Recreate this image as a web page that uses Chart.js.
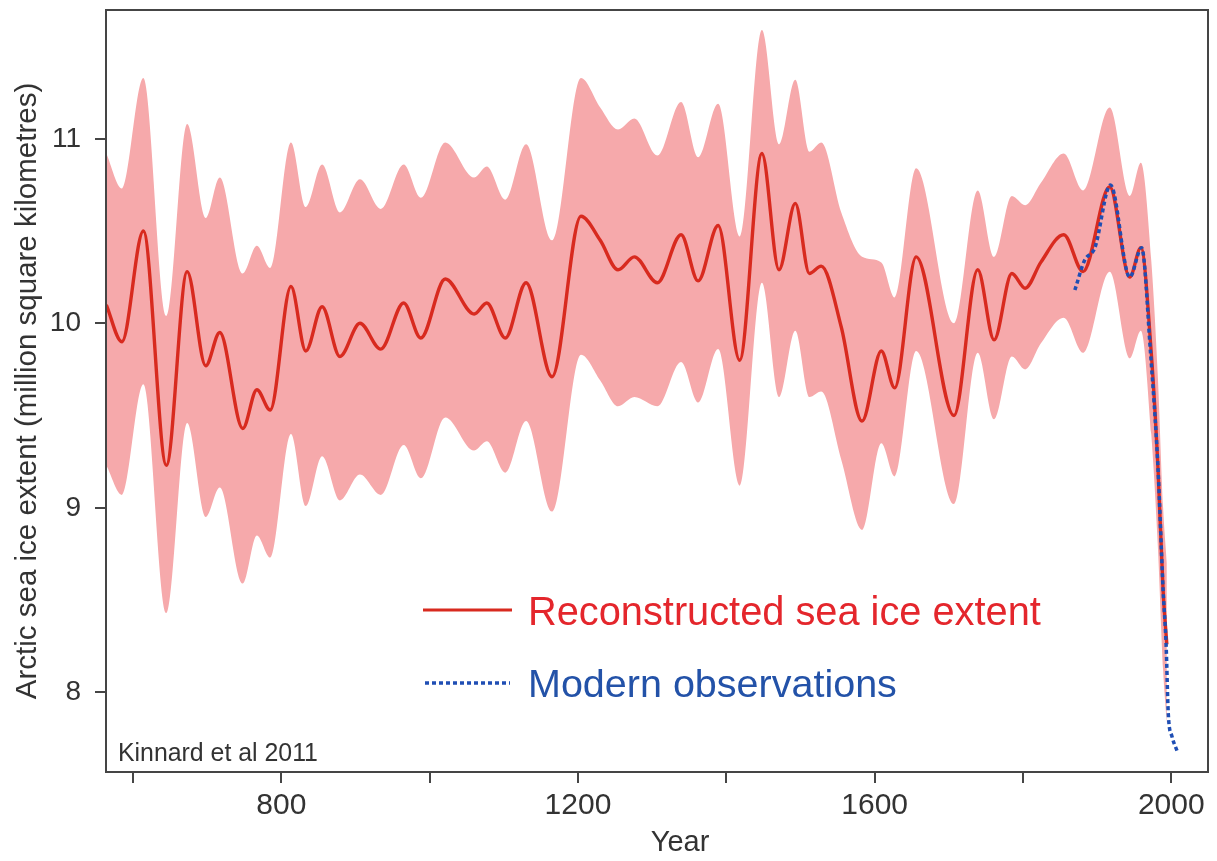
<!DOCTYPE html>
<html>
<head>
<meta charset="utf-8">
<title>Arctic sea ice extent</title>
<script src="https://cdn.jsdelivr.net/npm/chart.js@4.4.1/dist/chart.umd.min.js"></script>
<style>
  html, body { margin: 0; padding: 0; background: #ffffff; }
  #wrap { width: 1217px; height: 861px; position: relative; }
</style>
</head>
<body>
<div id="wrap"><canvas id="chart"></canvas></div>
<script>
// ---- Data ----
const years = [564, 585, 614, 645, 673, 698, 717, 748, 767, 785, 813, 833, 855, 879, 906, 934, 965, 988,
  1021, 1060, 1077, 1102, 1130, 1165, 1204, 1230, 1254, 1276, 1307, 1339, 1362, 1389, 1418, 1448, 1471,
  1493, 1512, 1528, 1555, 1583, 1609, 1627, 1656, 1707, 1739, 1761, 1785, 1803, 1824, 1855, 1881, 1917,
  1944, 1959, 1973, 1982, 1989, 1994];
const upperBound = [10.92, 10.73, 11.33, 10.04, 11.08, 10.57, 10.79, 10.27, 10.42, 10.30, 10.98, 10.63, 10.86, 10.60, 10.78, 10.62, 10.86, 10.68,
  10.98, 10.79, 10.85, 10.67, 10.97, 10.45, 11.33, 11.17, 11.05, 11.11, 10.91, 11.20, 10.90, 11.19, 10.47, 11.59, 10.97,
  11.32, 10.93, 10.98, 10.60, 10.36, 10.33, 10.14, 10.84, 10.00, 10.72, 10.36, 10.69, 10.64, 10.76, 10.92, 10.72, 11.17,
  10.69, 10.87, 10.34, 9.70, 9.00, 8.70];
const reconstructed = [10.10, 9.90, 10.50, 9.23, 10.28, 9.77, 9.95, 9.43, 9.64, 9.53, 10.20, 9.85, 10.09, 9.82, 10.00, 9.86, 10.11, 9.92,
  10.24, 10.05, 10.11, 9.92, 10.22, 9.71, 10.58, 10.45, 10.29, 10.36, 10.22, 10.48, 10.23, 10.53, 9.80, 10.92, 10.29,
  10.65, 10.27, 10.31, 9.98, 9.47, 9.85, 9.65, 10.36, 9.50, 10.29, 9.91, 10.27, 10.19, 10.33, 10.48, 10.28, 10.74,
  10.25, 10.41, 9.84, 9.22, 8.55, 8.26];
const lowerBound = [9.23, 9.07, 9.67, 8.43, 9.46, 8.95, 9.11, 8.59, 8.85, 8.73, 9.40, 9.01, 9.28, 9.04, 9.18, 9.07, 9.34, 9.16,
  9.49, 9.31, 9.36, 9.19, 9.47, 8.98, 9.83, 9.69, 9.55, 9.60, 9.55, 9.79, 9.57, 9.86, 9.12, 10.22, 9.60,
  9.96, 9.60, 9.63, 9.26, 8.88, 9.35, 9.17, 9.85, 9.02, 9.84, 9.48, 9.82, 9.75, 9.89, 10.03, 9.84, 10.28,
  9.81, 9.96, 9.40, 8.78, 8.12, 7.83];
const obsYears = [1870, 1883, 1897, 1918, 1944, 1960, 1972, 1982, 1989, 1993, 1996, 2001, 2008];
const observed = [10.18, 10.34, 10.41, 10.75, 10.25, 10.41, 9.84, 9.22, 8.55, 8.26, 7.88, 7.76, 7.68];
const xTickValues = [600, 800, 1000, 1200, 1400, 1600, 1800, 2000];
const xTickLabels = ['', '800', '', '1200', '', '1600', '', '2000'];
const yTickValues = [8, 9, 10, 11];
const yTickLabels = ['8', '9', '10', '11'];

const FONT = '"Liberation Sans", Arial, Helvetica, sans-serif';
const AXIS_COLOR = '#454545';
const TEXT_COLOR = '#333333';

const toXY = (xs, ys) => xs.map((x, i) => ({ x: x, y: ys[i] }));

function fitText(ctx, text, x, baseline, width, color, basePx) {
  ctx.font = basePx + 'px ' + FONT;
  const w = ctx.measureText(text).width;
  const px = basePx * width / w;
  ctx.font = px.toFixed(2) + 'px ' + FONT;
  ctx.fillStyle = color;
  ctx.textAlign = 'left';
  ctx.textBaseline = 'alphabetic';
  ctx.fillText(text, x, baseline);
}

const decorations = {
  id: 'decorations',
  afterDraw(chart) {
    const ctx = chart.ctx;
    const a = chart.chartArea;
    ctx.save();
    // frame
    ctx.strokeStyle = AXIS_COLOR;
    ctx.lineWidth = 2;
    ctx.strokeRect(a.left, a.top, a.right - a.left, a.bottom - a.top);
    // legend inside plot
    ctx.lineCap = 'butt';
    ctx.strokeStyle = '#d82a1f';
    ctx.lineWidth = 3.2;
    ctx.beginPath(); ctx.moveTo(423, 610); ctx.lineTo(512, 610); ctx.stroke();
    fitText(ctx, 'Reconstructed sea ice extent', 528, 625, 513, '#e4262c', 36);
    ctx.strokeStyle = '#1f4eb4';
    ctx.lineWidth = 3.5;
    ctx.setLineDash([4, 3]);
    ctx.beginPath(); ctx.moveTo(425, 683); ctx.lineTo(510, 683); ctx.stroke();
    ctx.setLineDash([]);
    fitText(ctx, 'Modern observations', 528, 697, 369, '#2352a8', 36);
    // source note
    fitText(ctx, 'Kinnard et al 2011', 118, 761, 200, TEXT_COLOR, 18);
    // x axis title
    ctx.font = '29px ' + FONT;
    ctx.fillStyle = TEXT_COLOR;
    ctx.textAlign = 'center';
    ctx.textBaseline = 'middle';
    ctx.fillText('Year', 680, 843);
    ctx.restore();
  }
};

new Chart(document.getElementById('chart'), {
  type: 'line',
  data: {
    datasets: [
      { label: 'Upper bound', data: toXY(years, upperBound), borderWidth: 0, borderColor: 'rgba(0,0,0,0)',
        pointRadius: 0, fill: '+1', backgroundColor: '#f6a9ab', cubicInterpolationMode: 'monotone', order: 3 },
      { label: 'Lower bound', data: toXY(years, lowerBound), borderWidth: 0, borderColor: 'rgba(0,0,0,0)',
        pointRadius: 0, fill: false, cubicInterpolationMode: 'monotone', order: 3 },
      { label: 'Reconstructed sea ice extent', data: toXY(years, reconstructed), borderColor: '#d82a1f',
        borderWidth: 3.4, pointRadius: 0, fill: false, cubicInterpolationMode: 'monotone', order: 1 },
      { label: 'Modern observations', data: toXY(obsYears, observed), borderColor: '#1f4eb4',
        borderWidth: 3.5, borderDash: [4, 3], pointRadius: 0, fill: false, cubicInterpolationMode: 'monotone', order: 0 }
    ]
  },
  options: {
    responsive: true,
    maintainAspectRatio: false,
    animation: false,
    layout: { padding: { left: 0, top: 10, right: 9, bottom: 0 } },
    plugins: { legend: { display: false }, tooltip: { enabled: false } },
    scales: {
      x: {
        type: 'linear',
        min: 563.6,
        max: 2049.5,
        afterBuildTicks: (s) => { s.ticks = xTickValues.map(v => ({ value: v })); },
        afterFit: (s) => { s.height = 89; s.paddingLeft = 0; s.paddingRight = 0; },
        ticks: {
          autoSkip: false, maxRotation: 0, padding: 5, color: TEXT_COLOR,
          font: { family: FONT, size: 30 },
          callback: (v) => { const i = xTickValues.indexOf(v); return i >= 0 ? xTickLabels[i] : ''; }
        },
        grid: { drawOnChartArea: false, drawTicks: true, tickLength: 11, color: AXIS_COLOR, lineWidth: 2 },
        border: { display: false }
      },
      y: {
        type: 'linear',
        min: 7.568,
        max: 11.698,
        afterBuildTicks: (s) => { s.ticks = yTickValues.map(v => ({ value: v })); },
        afterFit: (s) => { s.width = 106; s.paddingTop = 0; s.paddingBottom = 0; },
        ticks: {
          autoSkip: false, padding: 14, color: TEXT_COLOR,
          font: { family: FONT, size: 28 },
          callback: (v) => { const i = yTickValues.indexOf(v); return i >= 0 ? yTickLabels[i] : ''; }
        },
        grid: { drawOnChartArea: false, drawTicks: true, tickLength: 11, color: AXIS_COLOR, lineWidth: 2 },
        border: { display: false },
        title: {
          display: true,
          text: 'Arctic sea ice extent (million square kilometres)',
          color: TEXT_COLOR,
          font: { family: FONT, size: 29.5 },
          padding: { top: 10, bottom: 0 }
        }
      }
    }
  },
  plugins: [decorations]
});
</script>
</body>
</html>
